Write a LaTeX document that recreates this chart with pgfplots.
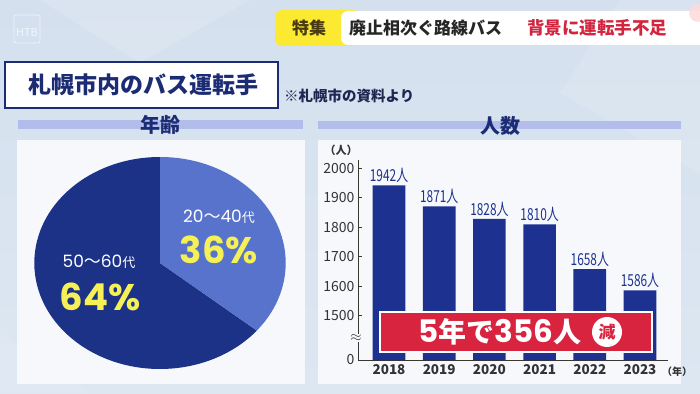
\documentclass[border=0pt]{standalone}
\usepackage{pgfplots}
\usepackage{pgfplotstable}
\pgfplotsset{compat=1.18}
\usepackage{fontspec}
\setmainfont{Noto Sans CJK JP}
\newfontfamily\pop{Poppins}
\newfontfamily\narrow[FakeStretch=0.72]{Noto Sans CJK JP}
\newfontfamily\dejavu{DejaVu Sans}
\definecolor{bgtop}{HTML}{D4E0EE}
\definecolor{bgbot}{HTML}{DDE7F2}
\definecolor{panel}{HTML}{F6F8FC}
\definecolor{lav}{HTML}{B3BDEB}
\definecolor{navy}{HTML}{1B2C74}
\definecolor{barblue}{HTML}{1D3290}
\definecolor{darkslice}{HTML}{1C3287}
\definecolor{lightslice}{HTML}{5873CC}
\definecolor{redbox}{HTML}{D92440}
\definecolor{yel}{HTML}{F4F056}
\definecolor{bannery}{HTML}{FBE932}
\definecolor{bannerdark}{HTML}{4A3B12}
\definecolor{bannerred}{HTML}{D3253F}
\definecolor{axisc}{HTML}{3A3632}
\definecolor{tickc}{HTML}{333333}
\definecolor{notec}{HTML}{1E2750}

\pgfplotstableread{
x y lab
0 1942 1942人
1 1871 1871人
2 1828 1828人
3 1810 1810人
4 1658 1658人
5 1586 1586人
}\bardata

\begin{document}
\begin{tikzpicture}[x=1pt,y=1pt]
\useasboundingbox (0,0) rectangle (700,393);
\shade[top color=bgtop, bottom color=bgbot] (0,0) rectangle (700,393);
% faint background facets
\fill[white,opacity=0.15] (40,393) -- (140,330) -- (250,393) -- cycle;
\fill[white,opacity=0.12] (560,300) -- (700,220) -- (700,393) -- (620,393) -- cycle;
\fill[white,opacity=0.10] (0,0) -- (90,0) -- (0,60) -- cycle;
% HTB logo
\draw[white,opacity=0.6,line width=0.8,rounded corners=2] (14,350) rectangle (40,378);
\node[white,opacity=0.7,font=\fontsize{11}{11}\selectfont] at (27,361) {HTB};
% banner
\fill[bannery, rounded corners=7] (275,347) rectangle (360,383);
\fill[white, rounded corners=7] (341,348) rectangle (715,382);
\fill[pink!60!white,opacity=0.8] (698,380) circle (9);
\node[text=bannerdark,font=\fontsize{17}{17}\selectfont\bfseries] at (309,365) {特集};
\node[anchor=west,text=black!85,font=\fontsize{17}{17}\selectfont\bfseries,inner sep=0] at (349,365) {廃止相次ぐ路線バス};
\node[anchor=west,text=bannerred,font=\fontsize{17.5}{17.5}\selectfont\bfseries,inner sep=0] at (527,365) {背景に運転手不足};
% title
\draw[fill=white, draw=navy, line width=1.3] (5,285) rectangle (278,331);
\node[text=navy,font=\fontsize{23}{23}\selectfont\bfseries] at (143,308) {札幌市内のバス運転手};
\node[anchor=west,text=notec,font=\fontsize{14.5}{14.5}\selectfont\bfseries,inner sep=0] at (284,297) {※札幌市の資料より};
% header bars
\fill[lav] (18,264) rectangle (303,273);
\fill[lav] (318,264) rectangle (681,272);
\node[text=navy,font=\fontsize{20}{20}\selectfont\bfseries] at (160,268) {年齢};
\node[text=navy,font=\fontsize{20}{20}\selectfont\bfseries] at (500,267) {人数};
% panels
\fill[panel] (17,9) rectangle (305,253);
\fill[panel] (318,9) rectangle (681,253);

% pie
\pgfmathsetmacro{\young}{36}
\pgfmathsetmacro{\old}{64}
\pgfmathsetmacro{\angA}{90-\young*3.6}
\pgfmathsetmacro{\angB}{90+\old*3.6}
\begin{axis}[at={(160pt,130pt)}, anchor=center, scale only axis,
  width=251.4pt, height=212pt, xmin=-1, xmax=1, ymin=-1, ymax=1,
  hide axis, clip=false]
\fill[darkslice] (axis cs:0,0) -- (axis cs:0,1) arc[start angle=90, end angle=\angB, x radius=125.7pt, y radius=106pt] -- cycle;
\fill[lightslice] (axis cs:0,0) -- (axis cs:0,1) arc[start angle=90, end angle=\angA, x radius=125.7pt, y radius=106pt] -- cycle;
\end{axis}
\node[white,font=\fontsize{17}{17}\selectfont] at (219,176) {{\pop 20}〜{\pop 40}{\fontsize{13}{13}\selectfont 代}};
\node[text=yel,font=\fontsize{37}{37}\selectfont\pop\bfseries] at (219,143) {36\%};
\node[white,font=\fontsize{17}{17}\selectfont] at (99,131) {{\pop 50}〜{\pop 60}{\fontsize{13}{13}\selectfont 代}};
\node[text=yel,font=\fontsize{37}{37}\selectfont\pop\bfseries] at (100,96) {64\%};

% bar chart
\begin{axis}[at={(358pt,33pt)}, anchor=south west, scale only axis,
  width=310pt, height=200pt,
  xmin=-0.6175, xmax=5.558, ymin=1350, ymax=2028,
  axis x line=bottom, axis y line=left,
  axis line style={-, color=axisc, line width=1pt},
  xtick={0,1,2,3,4,5},
  xticklabels={2018,2019,2020,2021,2022,2023},
  xtick style={draw=none},
  xticklabel style={font=\fontsize{13.5}{13.5}\selectfont\bfseries, text=tickc, yshift=-1pt},
  ytick={1350,1500,1600,1700,1800,1900,2000},
  yticklabels={0,1500,1600,1700,1800,1900,2000},
  yticklabel style={font=\fontsize{14}{14}\selectfont, text=tickc},
  tick align=inside, major tick length=4pt,
  ytick style={color=axisc, line width=0.8pt},
  point meta=explicit symbolic,
  nodes near coords,
  every node near coord/.append style={font=\fontsize{16.5}{16.5}\selectfont\narrow, text=barblue, anchor=south, yshift=-1pt},
]
\addplot[ybar, bar width=0.651, fill=barblue, draw=none] table[x=x, y=y, meta=lab] {\bardata};
\end{axis}
\node[fill=panel, inner sep=0.5pt, text=axisc, font=\fontsize{15}{15}\selectfont] at (356,55) {$\approx$};
\node[text=tickc,font=\fontsize{11}{11}\selectfont\bfseries] at (341,243) {（人）};
\node[text=tickc,font=\fontsize{10}{10}\selectfont\bfseries] at (677,21) {（年）};
% red annotation
\draw[fill=redbox, draw=white, line width=1.2] (380,41) rectangle (652,81);
\node[white,font=\fontsize{31}{31}\selectfont\bfseries, anchor=center] at (500,61) {{\pop 5}{\fontsize{28}{28}\selectfont 年で}{\pop 356}{\fontsize{28}{28}\selectfont 人}};
\fill[white] (607,61) circle (15);
\node[text=redbox,font=\fontsize{17}{17}\selectfont\bfseries] at (607,61) {減};
\end{tikzpicture}
\end{document}
